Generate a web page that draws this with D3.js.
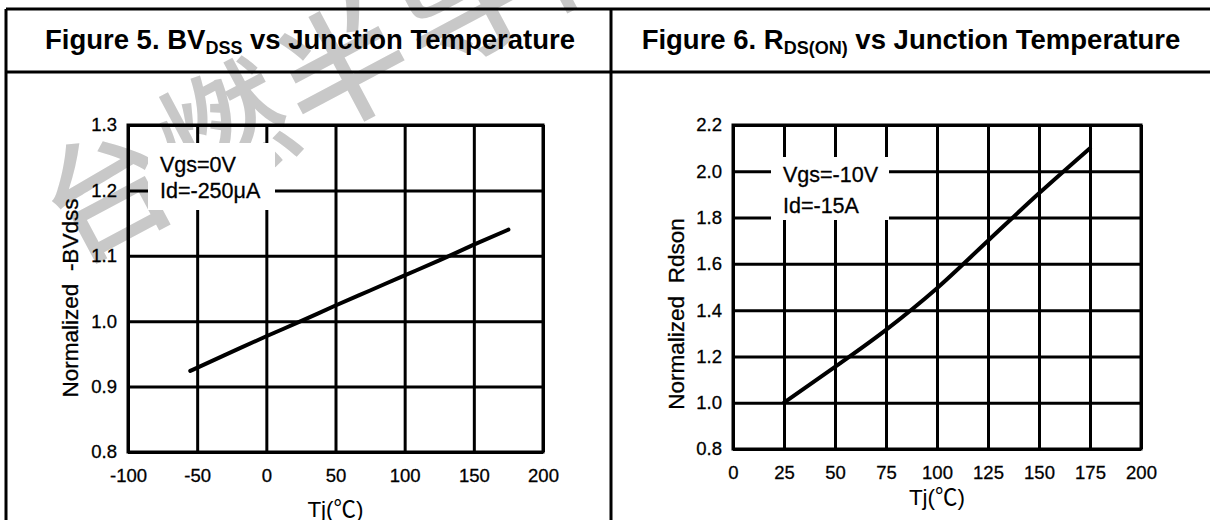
<!DOCTYPE html>
<html>
<head>
<meta charset="utf-8">
<script src="https://cdn.jsdelivr.net/npm/d3@7"></script>
<style>
  body { margin: 0; background: #fff; }
  text { font-family: "Liberation Sans", Arial, "Noto Sans CJK SC", sans-serif; fill: #000; }
</style>
</head>
<body>
<div id="chart"></div>
<script>
// Figure 5: BVdss vs Tj
const bvTemp = [-55, -25, 0, 25, 50, 75, 100, 125, 150, 175];
const bvNorm = [0.924, 0.953, 0.977, 1.0, 1.024, 1.047, 1.07, 1.093, 1.117, 1.14];
const bvXTicks = [-100, -50, 0, 50, 100, 150, 200];
const bvYTicks = [0.8, 0.9, 1.0, 1.1, 1.2, 1.3];

// Figure 6: Rds(on) vs Tj
const rdsTemp = [25, 50, 75, 100, 125, 150, 175];
const rdsNorm = [1.0, 1.155, 1.315, 1.495, 1.7, 1.905, 2.1];
const rdsXTicks = [0, 25, 50, 75, 100, 125, 150, 175, 200];
const rdsYTicks = [0.8, 1.0, 1.2, 1.4, 1.6, 1.8, 2.0, 2.2];

const width = 1210;
const height = 520;

const svg = d3.select("#chart")
  .append("svg")
  .attr("width", width)
  .attr("height", height);

svg.append("rect").attr("width", width).attr("height", height).attr("fill", "#fff");

// watermark
svg.append("text")
  .attr("transform", "translate(72,265) rotate(-28)")
  .attr("font-size", 128)
  .attr("font-weight", 500)
  .attr("letter-spacing", 6)
  .style("font-family", '"Noto Sans CJK SC", sans-serif')
  .style("fill", "#c8c8c8")
  .text("台燃半导体");

// outer frame
const frame = svg.append("g").attr("stroke", "#000").attr("stroke-width", 3);
frame.append("line").attr("x1", 6).attr("x2", width).attr("y1", 9).attr("y2", 9);
frame.append("line").attr("x1", 6).attr("x2", width).attr("y1", 72).attr("y2", 72);
frame.append("line").attr("x1", 6).attr("x2", 6).attr("y1", 9).attr("y2", height);
frame.append("line").attr("x1", 611).attr("x2", 611).attr("y1", 9).attr("y2", height);

const panels = [
  {
    cx: 310, title: ["Figure 5. BV", "DSS", " vs Junction Temperature"],
    left: 128, right: 543, top: 125, bottom: 452,
    xDomain: [-100, 200], yDomain: [0.8, 1.3],
    xTicks: bvXTicks, yTicks: bvYTicks, xs: bvTemp, ys: bvNorm,
    yLabel: "Normalized  -BVdss", yLabelPos: [78, 298], xLabelY: 517,
    notes: ["Vgs=0V", "Id=-250μA"], noteX: 160, noteY: [172, 198],
    box: [148, 143, 127, 67]
  },
  {
    cx: 911, title: ["Figure 6. R", "DS(ON)", " vs Junction Temperature"],
    left: 733, right: 1141, top: 125, bottom: 449,
    xDomain: [0, 200], yDomain: [0.8, 2.2],
    xTicks: rdsXTicks, yTicks: rdsYTicks, xs: rdsTemp, ys: rdsNorm,
    yLabel: "Normalized  Rdson", yLabelPos: [684, 314], xLabelY: 505,
    notes: ["Vgs=-10V", "Id=-15A"], noteX: 783, noteY: [182, 213],
    box: [771, 157, 118, 63]
  }
];

const hyphen = (fmt) => (d) => fmt(d).replace("−", "-");

panels.forEach((p) => {
  // title with subscript
  const t = svg.append("text")
    .attr("x", p.cx).attr("y", 49)
    .attr("text-anchor", "middle")
    .attr("font-size", 27.5)
    .attr("font-weight", "bold");
  t.append("tspan").text(p.title[0]);
  t.append("tspan").attr("font-size", 18).attr("dy", 5).text(p.title[1]);
  t.append("tspan").attr("dy", -5).text(p.title[2]);

  const x = d3.scaleLinear().domain(p.xDomain).range([p.left, p.right]);
  const y = d3.scaleLinear().domain(p.yDomain).range([p.bottom, p.top]);
  const w = p.right - p.left;
  const h = p.bottom - p.top;

  // grid
  const gx = svg.append("g")
    .attr("transform", `translate(0,${p.bottom})`)
    .call(d3.axisBottom(x).tickValues(p.xTicks).tickSize(-h).tickFormat(""));
  const gy = svg.append("g")
    .attr("transform", `translate(${p.left},0)`)
    .call(d3.axisLeft(y).tickValues(p.yTicks).tickSize(-w).tickFormat(""));
  [gx, gy].forEach((g) => {
    g.select(".domain").remove();
    g.selectAll("line").attr("stroke", "#000").attr("stroke-width", 3);
  });

  svg.append("rect")
    .attr("x", p.left).attr("y", p.top)
    .attr("width", w).attr("height", h)
    .attr("fill", "none").attr("stroke", "#000").attr("stroke-width", 3);

  // tick labels
  const ax = svg.append("g")
    .attr("transform", `translate(0,${p.bottom})`)
    .call(d3.axisBottom(x).tickValues(p.xTicks).tickSize(0).tickPadding(17)
      .tickFormat(hyphen(d3.format("d"))));
  const ay = svg.append("g")
    .attr("transform", `translate(${p.left},0)`)
    .call(d3.axisLeft(y).tickValues(p.yTicks).tickSize(0).tickPadding(11)
      .tickFormat(d3.format(".1f")));
  [ax, ay].forEach((g) => {
    g.select(".domain").remove();
    g.selectAll("text")
      .attr("font-size", 18.5)
      .style("font-family", '"Liberation Sans", Arial, sans-serif')
      .attr("fill", "#000")
      .attr("stroke", "#000")
      .attr("stroke-width", 0.3);
  });

  // note box
  svg.append("rect")
    .attr("x", p.box[0]).attr("y", p.box[1])
    .attr("width", p.box[2]).attr("height", p.box[3])
    .attr("fill", "#fff");
  p.notes.forEach((n, i) => {
    svg.append("text")
      .attr("x", p.noteX).attr("y", p.noteY[i])
      .attr("font-size", 21.5)
      .attr("stroke", "#000")
      .attr("stroke-width", 0.3)
      .text(n);
  });

  // curve
  const line = d3.line()
    .x((d, i) => x(p.xs[i]))
    .y((d) => y(d))
    .curve(d3.curveMonotoneX);
  svg.append("path")
    .datum(p.ys)
    .attr("d", line)
    .attr("fill", "none")
    .attr("stroke", "#000")
    .attr("stroke-width", 4)
    .attr("stroke-linecap", "round");

  // axis labels
  svg.append("text")
    .attr("transform", `translate(${p.yLabelPos[0]},${p.yLabelPos[1]}) rotate(-90)`)
    .attr("text-anchor", "middle")
    .attr("font-size", 22.5)
    .attr("stroke", "#000")
    .attr("stroke-width", 0.3)
    .style("white-space", "pre")
    .text(p.yLabel);
  svg.append("text")
    .attr("x", (p.left + p.right) / 2).attr("y", p.xLabelY)
    .attr("text-anchor", "middle")
    .attr("font-size", 22.5)
    .text("Tj(℃)");
});
</script>
</body>
</html>
